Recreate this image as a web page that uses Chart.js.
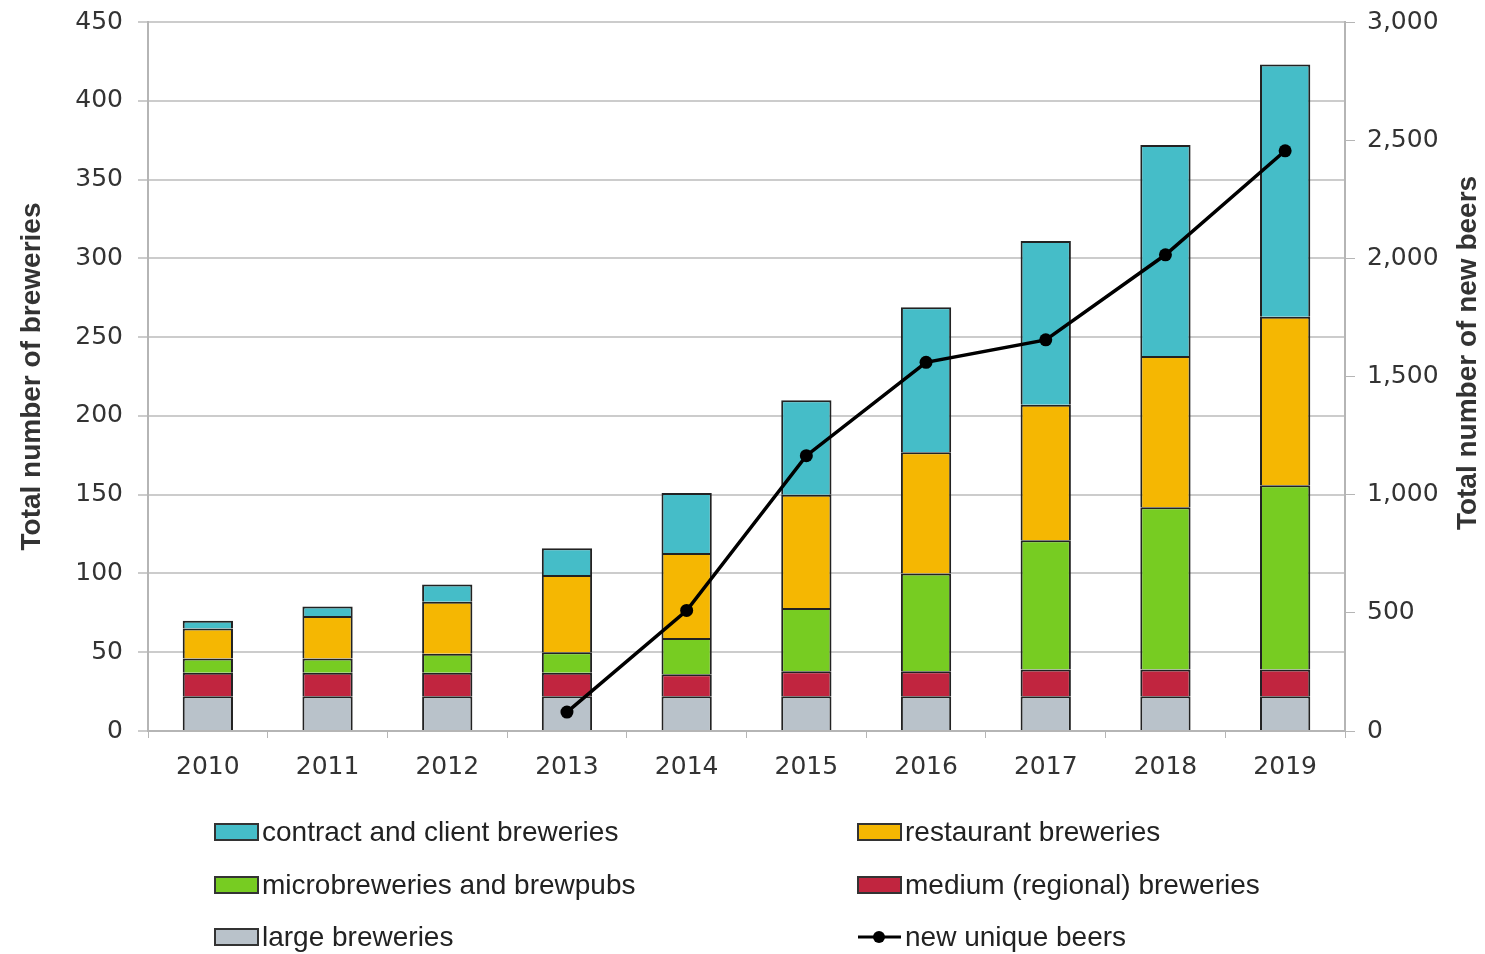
<!DOCTYPE html>
<html>
<head>
<meta charset="utf-8">
<script src="https://cdn.jsdelivr.net/npm/chart.js@4.4.1/dist/chart.umd.min.js"></script>
<style>
  html, body { margin: 0; padding: 0; background: #fff; }
  #wrap { width: 1485px; height: 954px; position: relative; }
</style>
</head>
<body>
<div id="wrap"><canvas id="beerChart"></canvas></div>
<script>
    const YEARS = ['2010', '2011', '2012', '2013', '2014', '2015', '2016', '2017', '2018', '2019'];
    const LARGE = [22, 22, 22, 22, 22, 22, 22, 22, 22, 22];
    const MEDIUM = [15, 15, 15, 15, 14, 16, 16, 17, 17, 17];
    const MICRO = [9, 9, 12, 13, 23, 40, 62, 82, 103, 117];
    const RESTAURANT = [19, 27, 33, 49, 54, 72, 77, 86, 96, 107];
    const CONTRACT = [5, 6, 11, 17, 38, 60, 92, 104, 134, 160];
    const NEW_BEERS = [null, null, null, 80, 510, 1165, 1560, 1655, 2015, 2455];
    const LEFT_TICKS = [0, 50, 100, 150, 200, 250, 300, 350, 400, 450];
    const RIGHT_TICKS = [0, 500, 1000, 1500, 2000, 2500, 3000];

    const TICK_FONT = { family: "'DejaVu Sans', sans-serif", size: 25 };
    const TEXT_COLOR = '#333333';

    function barSet(label, data, color) {
      return {
        type: 'bar',
        label: label,
        data: data,
        backgroundColor: color,
        borderColor: '#222222',
        borderWidth: 2,
        yAxisID: 'y',
        order: 1,
        barPercentage: 0.42,
        categoryPercentage: 1.0
      };
    }

    // keep the plot top where the reference has it
    function fitVertical(width) {
      return scale => {
        scale.width = width;
        scale.paddingTop = 0;
        scale.paddingBottom = 0;
      };
    }

    // legend drawn below the plot, two columns
    const legendPlugin = {
      id: 'twoColLegend',
      afterDraw(chart) {
        const ctx = chart.ctx;
        const ds = chart.data.datasets;
        const byLabel = {};
        ds.forEach(d => byLabel[d.label] = d);
        const rows = [
          ['contract and client breweries', 'restaurant breweries'],
          ['microbreweries and brewpubs', 'medium (regional) breweries'],
          ['large breweries', 'new unique beers']
        ];
        const colX = [215, 858];
        const rowY = [832, 885, 937];
        ctx.save();
        ctx.font = "28px 'Liberation Sans', Arial, sans-serif";
        ctx.textBaseline = 'middle';
        rows.forEach((row, r) => {
          row.forEach((lab, c) => {
            const d = byLabel[lab];
            const x = colX[c], y = rowY[r];
            if (d.type === 'line') {
              ctx.strokeStyle = '#000';
              ctx.lineWidth = 3;
              ctx.beginPath();
              ctx.moveTo(x, y);
              ctx.lineTo(x + 43, y);
              ctx.stroke();
              ctx.fillStyle = '#000';
              ctx.beginPath();
              ctx.arc(x + 21, y, 6, 0, Math.PI * 2);
              ctx.fill();
            } else {
              ctx.fillStyle = d.backgroundColor;
              ctx.fillRect(x, y - 8, 43, 16);
              ctx.strokeStyle = '#333';
              ctx.lineWidth = 2;
              ctx.strokeRect(x, y - 8, 43, 16);
            }
            ctx.fillStyle = '#222';
            ctx.fillText(lab, x + 47, y + 1);
          });
        });

        // right axis title, reading bottom to top
        ctx.translate(1468, 353);
        ctx.rotate(-Math.PI / 2);
        ctx.textAlign = 'center';
        ctx.font = "bold 28px 'Liberation Sans', Arial, sans-serif";
        ctx.fillStyle = TEXT_COLOR;
        ctx.fillText('Total number of new beers', 0, 0);
        ctx.restore();
      }
    };

    function initChart() {
      const canvas = document.getElementById('beerChart');
      const ctx = canvas.getContext('2d');

      new Chart(ctx, {
        data: {
          labels: YEARS,
          datasets: [
            {
              type: 'line',
              label: 'new unique beers',
              data: NEW_BEERS,
              borderColor: '#000',
              backgroundColor: '#000',
              borderWidth: 3.5,
              pointRadius: 6.5,
              pointBackgroundColor: '#000',
              pointBorderWidth: 0,
              yAxisID: 'y1',
              order: 0,
              spanGaps: false
            },
            barSet('large breweries', LARGE, '#b9c2ca'),
            barSet('medium (regional) breweries', MEDIUM, '#c1253f'),
            barSet('microbreweries and brewpubs', MICRO, '#77cc22'),
            barSet('restaurant breweries', RESTAURANT, '#f5b702'),
            barSet('contract and client breweries', CONTRACT, '#45bdc8')
          ]
        },
        options: {
          responsive: false,
          animation: false,
          layout: { padding: { top: 22, left: 0, right: 0, bottom: 0 } },
          plugins: {
            legend: { display: false },
            tooltip: { enabled: false }
          },
          scales: {
            x: {
              stacked: true,
              afterFit: scale => { scale.height = 223; },
              border: { color: '#b5b5b5', width: 2 },
              grid: { drawOnChartArea: false, drawTicks: true, tickLength: 7, color: '#b5b5b5', offset: true },
              ticks: { font: TICK_FONT, color: TEXT_COLOR, padding: 14 }
            },
            y: {
              stacked: true,
              position: 'left',
              min: 0,
              max: 450,
              afterFit: fitVertical(148),
              afterBuildTicks: scale => { scale.ticks = LEFT_TICKS.map(v => ({ value: v })); },
              border: { color: '#b5b5b5', width: 2 },
              grid: { color: '#cccccc', lineWidth: 2, tickLength: 10 },
              ticks: { font: TICK_FONT, color: TEXT_COLOR, padding: 15 },
              title: {
                display: true,
                text: 'Total number of breweries',
                font: { family: "'Liberation Sans', Arial, sans-serif", size: 28, weight: 'bold' },
                color: TEXT_COLOR,
                padding: { top: 15, bottom: 0 }
              }
            },
            y1: {
              position: 'right',
              min: 0,
              max: 3000,
              afterFit: fitVertical(140),
              afterBuildTicks: scale => { scale.ticks = RIGHT_TICKS.map(v => ({ value: v })); },
              border: { color: '#b5b5b5', width: 2 },
              grid: { drawOnChartArea: false, color: '#b5b5b5', tickLength: 10 },
              ticks: {
                font: TICK_FONT,
                color: TEXT_COLOR,
                padding: 12,
                callback: v => v.toLocaleString('en-US')
              }
            }
          }
        },
        plugins: [legendPlugin]
      });
    }

    document.addEventListener('DOMContentLoaded', () => {
      const c = document.getElementById('beerChart');
      c.width = 1485;
      c.height = 954;
      initChart();
    });
</script>
</body>
</html>
